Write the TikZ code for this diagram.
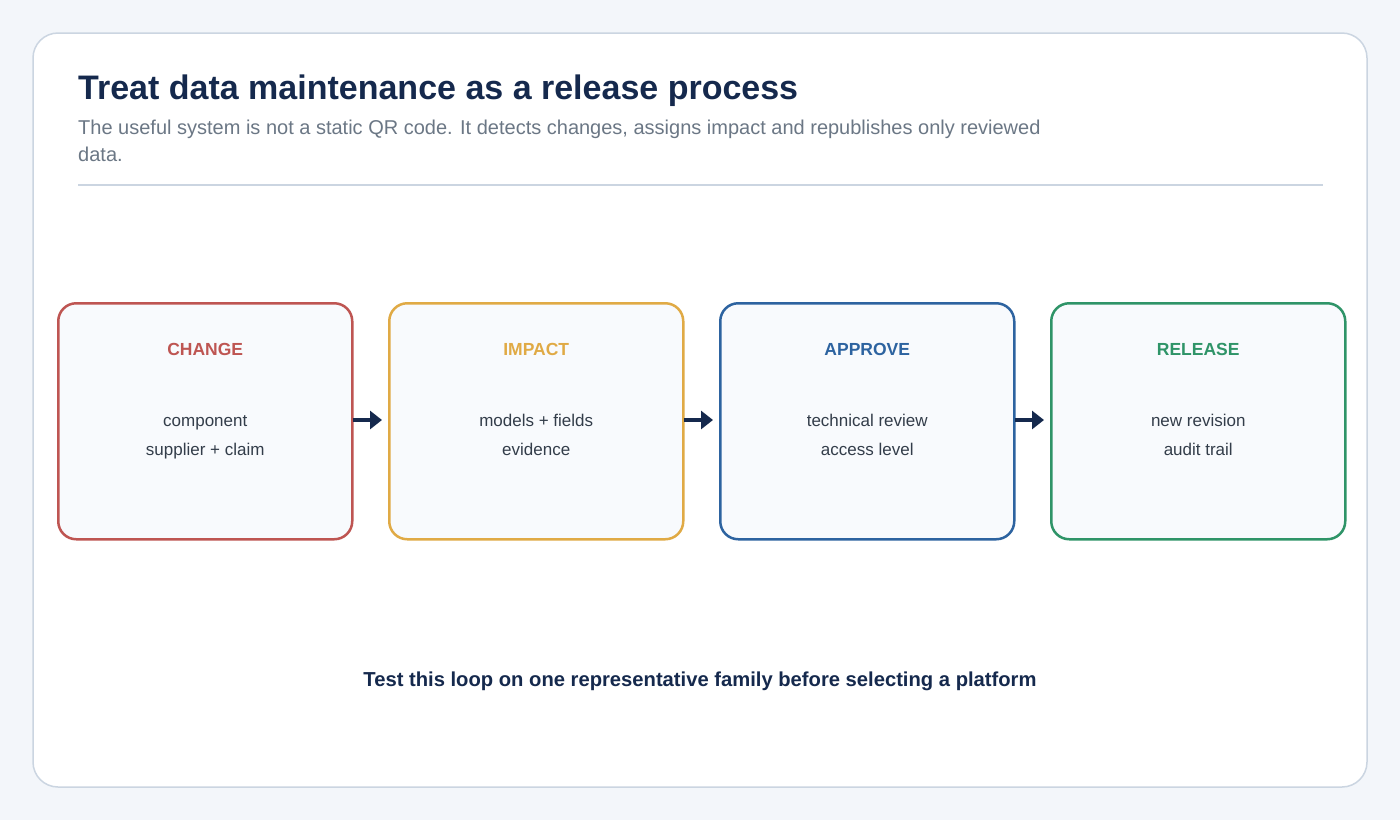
\documentclass[tikz,border=0pt]{standalone}
\usepackage{fontspec}
\setmainfont{Liberation Sans}
\usetikzlibrary{arrows.meta}
\definecolor{bg}{HTML}{F3F6FA}
\definecolor{edge}{HTML}{CBD5E1}
\definecolor{navy}{HTML}{15294D}
\definecolor{sub}{HTML}{6B7785}
\definecolor{boxfill}{HTML}{F8FAFD}
\definecolor{txt}{HTML}{333D4A}
\definecolor{cred}{HTML}{BE5552}
\definecolor{cyel}{HTML}{E0AA45}
\definecolor{cblue}{HTML}{2D63A0}
\definecolor{cgreen}{HTML}{2F9468}
\begin{document}
\begin{tikzpicture}[x=1pt,y=-1pt,
  stage/.style={draw=#1,line width=2.5pt,fill=boxfill,rounded corners=18pt,minimum width=294pt,minimum height=236pt,anchor=north west,inner sep=0pt},
  head/.style={font=\bfseries\fontsize{17.5}{20}\selectfont,text=#1},
  body/.style={font=\fontsize{17}{29}\selectfont,text=txt,align=center},
  arr/.style={draw=navy,line width=4pt,-{Triangle[length=12pt,width=18pt]},shorten <=-1pt,shorten >=6pt}]
\useasboundingbox (0,0) rectangle (1400,820);
\fill[bg] (0,0) rectangle (1400,820);
\draw[edge,line width=1.5pt,fill=white,rounded corners=25pt] (33,33) rectangle (1367,787);
\node[anchor=base west,inner sep=0pt,text=navy,font=\bfseries\fontsize{34}{38}\selectfont] (title) at (78,99) {Treat data maintenance as a release process};
\node[anchor=base west,inner sep=0pt,text=sub,font=\fontsize{20}{27}\selectfont,align=left] (subt) at (78,161) {The useful system is not a static QR code. It detects changes, assigns impact and republishes only reviewed\\data.};
\draw[edge,line width=1.5pt] (78,185) -- (1323,185);
\foreach \n/\x/\c/\h/\a/\b in {s1/57/cred/CHANGE/component/supplier + claim, s2/388/cyel/IMPACT/models + fields/evidence, s3/719/cblue/APPROVE/technical review/access level, s4/1050/cgreen/RELEASE/new revision/audit trail}{
  \node[stage=\c] (\n) at (\x,302) {};
  \node[head=\c,anchor=base] (\n h) at ([yshift=-53pt]\n.north) {\h};
  \node[body,anchor=base] (\n a) at ([yshift=-124pt]\n.north) {\a};
  \node[body,anchor=base] (\n b) at ([yshift=-153pt]\n.north) {\b};
}
\draw[arr] (s1.east|-0,420) -- (s2.west|-0,420);
\draw[arr] (s2.east|-0,420) -- (s3.west|-0,420);
\draw[arr] (s3.east|-0,420) -- (s4.west|-0,420);
\node[anchor=base,inner sep=0pt,text=navy,font=\bfseries\fontsize{20.2}{23}\selectfont] (foot) at (700,686) {Test this loop on one representative family before selecting a platform};
\end{tikzpicture}
\end{document}
